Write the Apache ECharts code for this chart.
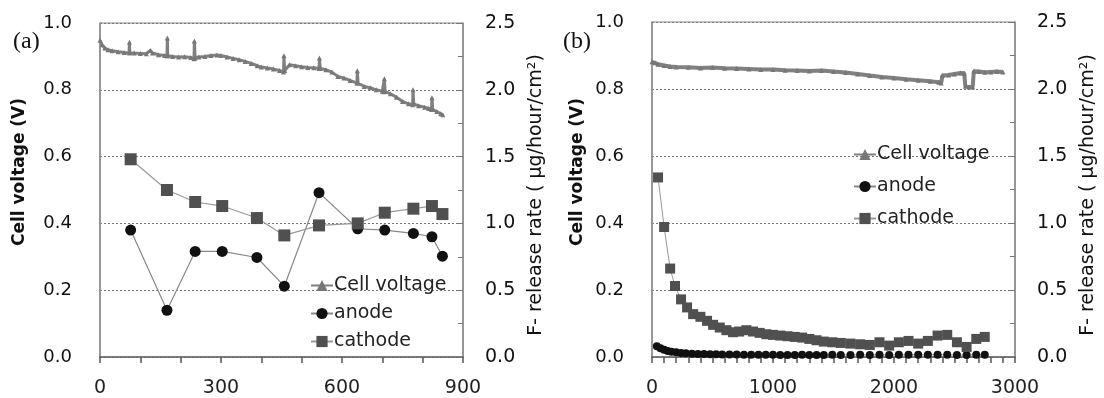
<!DOCTYPE html>
<html>
<head>
<meta charset="utf-8">
<script src="https://cdn.jsdelivr.net/npm/echarts@6/dist/echarts.min.js"></script>
<style>
html,body{margin:0;padding:0;background:#fff;}
#chart{width:1104px;height:398px;}
</style>
</head>
<body>
<div id="chart"></div>
<script>
// panel (a) - F- release sampling
var timeA    = [76, 166, 236, 303, 389, 457, 543, 639, 706, 777, 823, 849];
var anodeA   = [0.95, 0.35, 0.79, 0.79, 0.745, 0.53, 1.23, 0.96, 0.95, 0.925, 0.90, 0.755];
var cathodeA = [1.48, 1.25, 1.16, 1.13, 1.04, 0.91, 0.985, 1.0, 1.08, 1.11, 1.13, 1.07];
// panel (a) - cell voltage
var cvTimeA = [0,5,12,20,30,45,60,72,73,74,85,100,115,125,130,145,160,166,167,168,180,195,210,225,233,234,236,245,260,275,290,300,315,330,345,360,375,390,400,415,430,445,455,456,458,470,485,500,515,530,543,544,546,560,575,590,605,620,637,638,640,655,670,685,700,704,705,707,720,735,750,765,775,776,778,790,805,815,822,823,825,835,845,850];
var cvA     = [0.948,0.935,0.925,0.920,0.917,0.914,0.912,0.911,0.942,0.911,0.910,0.909,0.908,0.918,0.910,0.905,0.903,0.902,0.955,0.902,0.900,0.898,0.899,0.897,0.893,0.946,0.895,0.898,0.900,0.903,0.904,0.903,0.898,0.894,0.890,0.885,0.879,0.872,0.868,0.865,0.862,0.858,0.853,0.902,0.858,0.875,0.872,0.869,0.867,0.866,0.864,0.895,0.864,0.860,0.853,0.840,0.835,0.828,0.820,0.857,0.820,0.810,0.806,0.800,0.796,0.794,0.833,0.795,0.788,0.778,0.765,0.758,0.755,0.800,0.758,0.752,0.748,0.744,0.741,0.776,0.741,0.735,0.728,0.725];

// panel (b)
var timeBc    = [50,100,150,190,240,290,340,400,455,505,560,615,670,720,780,835,890,945,1000,1060,1120,1180,1240,1300,1360,1420,1490,1560,1640,1720,1800,1880,1960,2040,2120,2200,2280,2360,2440,2520,2600,2680,2750];
var cathodeB  = [1.34,0.97,0.66,0.53,0.43,0.37,0.32,0.30,0.27,0.24,0.22,0.20,0.185,0.19,0.20,0.19,0.18,0.17,0.165,0.16,0.155,0.15,0.145,0.135,0.125,0.115,0.11,0.105,0.10,0.095,0.09,0.11,0.085,0.11,0.12,0.10,0.12,0.16,0.165,0.11,0.075,0.135,0.15];
var timeBa    = [40,70,100,130,160,200,240,280,330,380,430,480,530,580,640,700,760,820,880,940,1000,1060,1120,1180,1240,1300,1360,1420,1490,1560,1640,1720,1800,1880,1960,2040,2120,2200,2280,2360,2440,2520,2600,2680,2750];
var anodeB    = [0.08,0.065,0.055,0.045,0.04,0.035,0.03,0.028,0.025,0.023,0.022,0.02,0.02,0.019,0.018,0.018,0.017,0.017,0.016,0.016,0.016,0.015,0.015,0.015,0.016,0.015,0.015,0.015,0.016,0.015,0.015,0.016,0.015,0.016,0.015,0.016,0.017,0.016,0.016,0.017,0.016,0.015,0.014,0.016,0.016];
var cvTimeB = [0,25,50,100,150,200,300,400,500,600,700,800,900,1000,1100,1200,1300,1400,1500,1600,1700,1800,1900,2000,2100,2200,2300,2370,2390,2400,2450,2500,2550,2580,2590,2620,2650,2660,2700,2750,2800,2850,2900];
var cvB     = [0.881,0.878,0.874,0.870,0.867,0.866,0.865,0.863,0.864,0.862,0.861,0.860,0.858,0.858,0.856,0.855,0.854,0.855,0.852,0.849,0.845,0.840,0.836,0.833,0.829,0.826,0.823,0.820,0.818,0.840,0.842,0.845,0.848,0.847,0.808,0.806,0.806,0.853,0.852,0.850,0.851,0.852,0.851];

var legendNames = ['Cell voltage', 'anode', 'cathode'];

function pairs(xs, ys) {
  var out = [];
  for (var i = 0; i < xs.length; i++) out.push([xs[i], ys[i]]);
  return out;
}

var labFont = 'DejaVu Sans';
var gridLine = {show:true, lineStyle:{color:'#777', type:[2,2], width:1}};

function xAx(idx, max, step) {
  return {
    type:'value', gridIndex:idx, min:0, max:max, interval:100,
    axisLine:{show:true, onZero:false, lineStyle:{color:'#666', width:1.5}},
    axisTick:{show:true, inside:false, length:6, lineStyle:{color:'#555', width:1.5}},
    splitLine:{show:false},
    axisLabel:{margin:22, fontSize:19, color:'#222', fontFamily:labFont,
      formatter:function(v){ return v % step === 0 ? String(v) : ''; }}
  };
}
function yLeft(idx) {
  return {
    type:'value', gridIndex:idx, position:'left', min:0, max:1, interval:0.2,
    axisLine:{show:true, lineStyle:{color:'#888', width:1.5}},
    axisTick:{show:false},
    splitLine:gridLine,
    axisLabel:{margin:28, fontSize:18, color:'#111', fontFamily:labFont,
      formatter:function(v){ return v.toFixed(1); }}
  };
}
function yRight(idx) {
  return {
    type:'value', gridIndex:idx, position:'right', min:0, max:2.5, interval:0.25,
    axisLine:{show:true, lineStyle:{color:'#888', width:1.5}},
    axisTick:{show:true, inside:true, length:5, lineStyle:{color:'#777'}},
    splitLine:{show:false},
    axisLabel:{margin:22, fontSize:19, color:'#111', fontFamily:labFont,
      formatter:function(v){ return Math.abs(v*2 - Math.round(v*2)) < 1e-6 ? v.toFixed(1) : ''; }}
  };
}

var chart = echarts.init(document.getElementById('chart'));
chart.setOption({
  animation:false,
  backgroundColor:'#fff',
  grid:[
    {left:100, top:23, width:363, height:335, show:true, borderColor:'#888', borderWidth:1},
    {left:652, top:22, width:363, height:336, show:true, borderColor:'#888', borderWidth:1}
  ],
  xAxis:[xAx(0, 900, 300), xAx(1, 3000, 1000)],
  yAxis:[yLeft(0), yRight(0), yLeft(1), yRight(1)],
  legend:[
    {data:legendNames, orient:'vertical', left:305, top:271, itemGap:9, itemWidth:22, itemHeight:14,
     textStyle:{fontSize:19, color:'#222', fontFamily:labFont, padding:[0,0,0,-4]}},
    {data:legendNames, orient:'vertical', left:848, top:140, itemGap:13, itemWidth:22, itemHeight:14,
     textStyle:{fontSize:19, color:'#222', fontFamily:labFont, padding:[0,0,0,-4]}}
  ],
  graphic:[
    {type:'text', left:13, top:30, style:{text:'(a)', font:'24px "Liberation Serif"', fill:'#111'}},
    {type:'text', left:563, top:30, style:{text:'(b)', font:'24px "Liberation Serif"', fill:'#111'}},
    {type:'text', x:20, y:172, rotation:Math.PI/2, style:{text:'Cell voltage (V)', font:'bold 17px "DejaVu Sans"', fill:'#111', align:'center', verticalAlign:'middle'}},
    {type:'text', x:578, y:172, rotation:Math.PI/2, style:{text:'Cell voltage (V)', font:'bold 17px "DejaVu Sans"', fill:'#111', align:'center', verticalAlign:'middle'}},
    {type:'text', x:536, y:195, rotation:Math.PI/2, style:{text:'F- release rate ( \u03bcg/hour/cm\u00b2)', font:'19px "DejaVu Sans"', fill:'#111', align:'center', verticalAlign:'middle'}},
    {type:'text', x:1088, y:195, rotation:Math.PI/2, style:{text:'F- release rate ( \u03bcg/hour/cm\u00b2)', font:'19px "DejaVu Sans"', fill:'#111', align:'center', verticalAlign:'middle'}}
  ],
  series:[
    {name:'Cell voltage', type:'line', xAxisIndex:0, yAxisIndex:0, data:pairs(cvTimeA, cvA),
     symbol:'triangle', symbolSize:5, showAllSymbol:true,
     itemStyle:{color:'#777'}, lineStyle:{color:'#808080', width:3}},
    {name:'anode', type:'line', xAxisIndex:0, yAxisIndex:1, data:pairs(timeA, anodeA),
     symbol:'circle', symbolSize:11, itemStyle:{color:'#111'}, lineStyle:{color:'#888', width:1.2}},
    {name:'cathode', type:'line', xAxisIndex:0, yAxisIndex:1, data:pairs(timeA, cathodeA),
     symbol:'rect', symbolSize:12, itemStyle:{color:'#505050'}, lineStyle:{color:'#999', width:1.2}},
    {name:'Cell voltage', type:'line', xAxisIndex:1, yAxisIndex:2, data:pairs(cvTimeB, cvB),
     symbol:'triangle', symbolSize:5, showAllSymbol:true,
     itemStyle:{color:'#777'}, lineStyle:{color:'#808080', width:4}},
    {name:'anode', type:'line', xAxisIndex:1, yAxisIndex:3, data:pairs(timeBa, anodeB),
     symbol:'circle', symbolSize:8, showAllSymbol:true, itemStyle:{color:'#111'}, lineStyle:{color:'#888', width:1}},
    {name:'cathode', type:'line', xAxisIndex:1, yAxisIndex:3, data:pairs(timeBc, cathodeB),
     symbol:'rect', symbolSize:10, showAllSymbol:true, itemStyle:{color:'#505050'}, lineStyle:{color:'#999', width:1}}
  ]
});
</script>
</body>
</html>
